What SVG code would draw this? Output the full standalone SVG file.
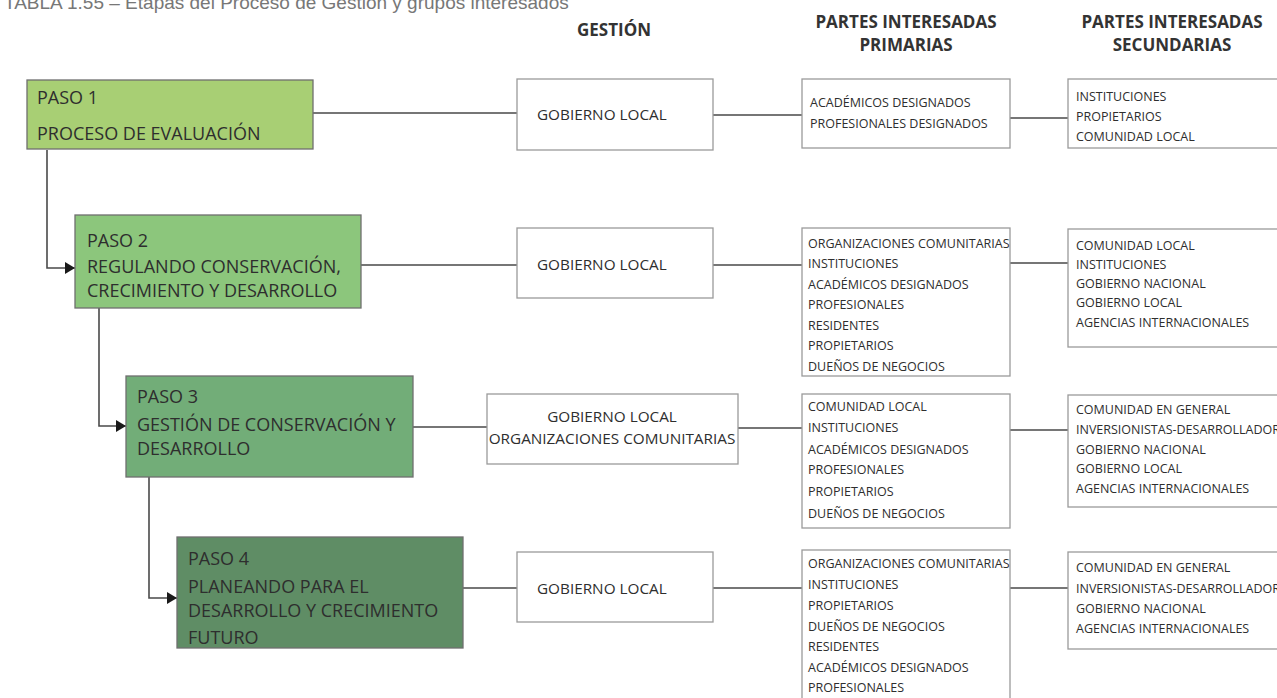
<svg xmlns="http://www.w3.org/2000/svg" width="1277" height="698" viewBox="0 0 1277 698">
<defs>
<style>
.t{font-family:"Open Sans","Noto Sans",sans-serif;fill:#2e2e2e}
.step{font-size:18px}
.gest{font-size:15.3px}
.lst{font-size:12.5px}
.hd{font-size:17px;font-weight:bold;fill:#333}
.wb{fill:#fff;stroke:#9a9a9a;stroke-width:1.3}
.sb{stroke:#6f6f6f;stroke-width:1.3}
.ln{fill:none;stroke:#4a4a4a;stroke-width:1.6}
</style>
<marker id="arr" viewBox="0 0 10 12" refX="10" refY="6" markerWidth="10" markerHeight="12" markerUnits="userSpaceOnUse" orient="auto">
<path d="M0,0 L10,6 L0,12 Z" fill="#1a1a1a"/>
</marker>
</defs>
<rect width="1277" height="698" fill="#fff"/>
<text x="4" y="9" style="font-family:'Liberation Sans',Arial,sans-serif;font-size:19px;fill:#777">TABLA 1.55 – Etapas del Proceso de Gestión y grupos interesados</text>
<g id="headers">
<text class="t hd" x="614" y="36" text-anchor="middle">GESTIÓN</text>
<text class="t hd" x="906" y="28" text-anchor="middle">PARTES INTERESADAS</text>
<text class="t hd" x="906" y="51" text-anchor="middle">PRIMARIAS</text>
<text class="t hd" x="1172" y="28" text-anchor="middle">PARTES INTERESADAS</text>
<text class="t hd" x="1172" y="51" text-anchor="middle">SECUNDARIAS</text>
</g>
<g id="connectors">
<path class="ln" d="M47,150 V268 H75" marker-end="url(#arr)"/>
<path class="ln" d="M99,308 V426 H126" marker-end="url(#arr)"/>
<path class="ln" d="M149,477 V598 H177" marker-end="url(#arr)"/>
<path class="ln" d="M313,113 H517 M713,115 H802 M1010,118 H1068"/>
<path class="ln" d="M361,265 H517 M713,265 H802 M1010,263 H1068"/>
<path class="ln" d="M413,427 H487 M738,428 H802 M1010,430 H1068"/>
<path class="ln" d="M463,588 H517 M713,588 H802 M1010,588 H1068"/>
</g>
<g id="paso1">
<rect class="sb" x="27" y="80" width="286" height="69" fill="#a8cf74"/>
<text class="t step" x="37" y="104">PASO 1</text>
<text class="t step" x="37" y="140">PROCESO DE EVALUACIÓN</text>
</g>
<g id="paso2">
<rect class="sb" x="75" y="215" width="286" height="93" fill="#8cc67c"/>
<text class="t step" x="87" y="247">PASO 2</text>
<text class="t step" x="87" y="273">REGULANDO CONSERVACIÓN,</text>
<text class="t step" x="87" y="297">CRECIMIENTO Y DESARROLLO</text>
</g>
<g id="paso3">
<rect class="sb" x="126" y="376" width="287" height="101" fill="#72ad78"/>
<text class="t step" x="137" y="403">PASO 3</text>
<text class="t step" x="137" y="431">GESTIÓN DE CONSERVACIÓN Y</text>
<text class="t step" x="137" y="455">DESARROLLO</text>
</g>
<g id="paso4">
<rect class="sb" x="177" y="537" width="286" height="111" fill="#5f8d65"/>
<text class="t step" x="188" y="565">PASO 4</text>
<text class="t step" x="188" y="593">PLANEANDO PARA EL</text>
<text class="t step" x="188" y="617">DESARROLLO Y CRECIMIENTO</text>
<text class="t step" x="188" y="644">FUTURO</text>
</g>
<g id="gestion1">
<rect class="wb" x="517" y="79" width="196" height="71"/>
<text class="t gest" x="537" y="120">GOBIERNO LOCAL</text>
</g>
<g id="gestion2">
<rect class="wb" x="517" y="228" width="196" height="70"/>
<text class="t gest" x="537" y="270">GOBIERNO LOCAL</text>
</g>
<g id="gestion3">
<rect class="wb" x="487" y="394" width="251" height="70"/>
<text class="t gest" x="612" y="422" text-anchor="middle">GOBIERNO LOCAL</text>
<text class="t gest" x="612" y="444" text-anchor="middle">ORGANIZACIONES COMUNITARIAS</text>
</g>
<g id="gestion4">
<rect class="wb" x="517" y="552" width="196" height="70"/>
<text class="t gest" x="537" y="594">GOBIERNO LOCAL</text>
</g>
<g id="primarias1">
<rect class="wb" x="802" y="79" width="208" height="69"/>
<text class="t lst" x="810" y="107">ACADÉMICOS DESIGNADOS</text>
<text class="t lst" x="810" y="128">PROFESIONALES DESIGNADOS</text>
</g>
<g id="secundarias1">
<rect class="wb" x="1068" y="79" width="214" height="69"/>
<text class="t lst" x="1076" y="101">INSTITUCIONES</text>
<text class="t lst" x="1076" y="121">PROPIETARIOS</text>
<text class="t lst" x="1076" y="141">COMUNIDAD LOCAL</text>
</g>
<g id="primarias2">
<rect class="wb" x="802" y="228" width="208" height="148"/>
<text class="t lst" x="808" y="248">ORGANIZACIONES COMUNITARIAS</text>
<text class="t lst" x="808" y="268">INSTITUCIONES</text>
<text class="t lst" x="808" y="289">ACADÉMICOS DESIGNADOS</text>
<text class="t lst" x="808" y="309">PROFESIONALES</text>
<text class="t lst" x="808" y="330">RESIDENTES</text>
<text class="t lst" x="808" y="350">PROPIETARIOS</text>
<text class="t lst" x="808" y="371">DUEÑOS DE NEGOCIOS</text>
</g>
<g id="secundarias2">
<rect class="wb" x="1068" y="229" width="214" height="118"/>
<text class="t lst" x="1076" y="250">COMUNIDAD LOCAL</text>
<text class="t lst" x="1076" y="269">INSTITUCIONES</text>
<text class="t lst" x="1076" y="288">GOBIERNO NACIONAL</text>
<text class="t lst" x="1076" y="307">GOBIERNO LOCAL</text>
<text class="t lst" x="1076" y="327">AGENCIAS INTERNACIONALES</text>
</g>
<g id="primarias3">
<rect class="wb" x="802" y="394" width="208" height="134"/>
<text class="t lst" x="808" y="411">COMUNIDAD LOCAL</text>
<text class="t lst" x="808" y="432">INSTITUCIONES</text>
<text class="t lst" x="808" y="454">ACADÉMICOS DESIGNADOS</text>
<text class="t lst" x="808" y="474">PROFESIONALES</text>
<text class="t lst" x="808" y="496">PROPIETARIOS</text>
<text class="t lst" x="808" y="518">DUEÑOS DE NEGOCIOS</text>
</g>
<g id="secundarias3">
<rect class="wb" x="1068" y="395" width="214" height="112"/>
<text class="t lst" x="1076" y="414">COMUNIDAD EN GENERAL</text>
<text class="t lst" x="1076" y="434">INVERSIONISTAS-DESARROLLADORES</text>
<text class="t lst" x="1076" y="454">GOBIERNO NACIONAL</text>
<text class="t lst" x="1076" y="473">GOBIERNO LOCAL</text>
<text class="t lst" x="1076" y="493">AGENCIAS INTERNACIONALES</text>
</g>
<g id="primarias4">
<rect class="wb" x="802" y="550" width="208" height="160"/>
<text class="t lst" x="808" y="568">ORGANIZACIONES COMUNITARIAS</text>
<text class="t lst" x="808" y="589">INSTITUCIONES</text>
<text class="t lst" x="808" y="610">PROPIETARIOS</text>
<text class="t lst" x="808" y="631">DUEÑOS DE NEGOCIOS</text>
<text class="t lst" x="808" y="651">RESIDENTES</text>
<text class="t lst" x="808" y="672">ACADÉMICOS DESIGNADOS</text>
<text class="t lst" x="808" y="692">PROFESIONALES</text>
</g>
<g id="secundarias4">
<rect class="wb" x="1068" y="552" width="214" height="97"/>
<text class="t lst" x="1076" y="572">COMUNIDAD EN GENERAL</text>
<text class="t lst" x="1076" y="593">INVERSIONISTAS-DESARROLLADORES</text>
<text class="t lst" x="1076" y="613">GOBIERNO NACIONAL</text>
<text class="t lst" x="1076" y="633">AGENCIAS INTERNACIONALES</text>
</g>
</svg>
